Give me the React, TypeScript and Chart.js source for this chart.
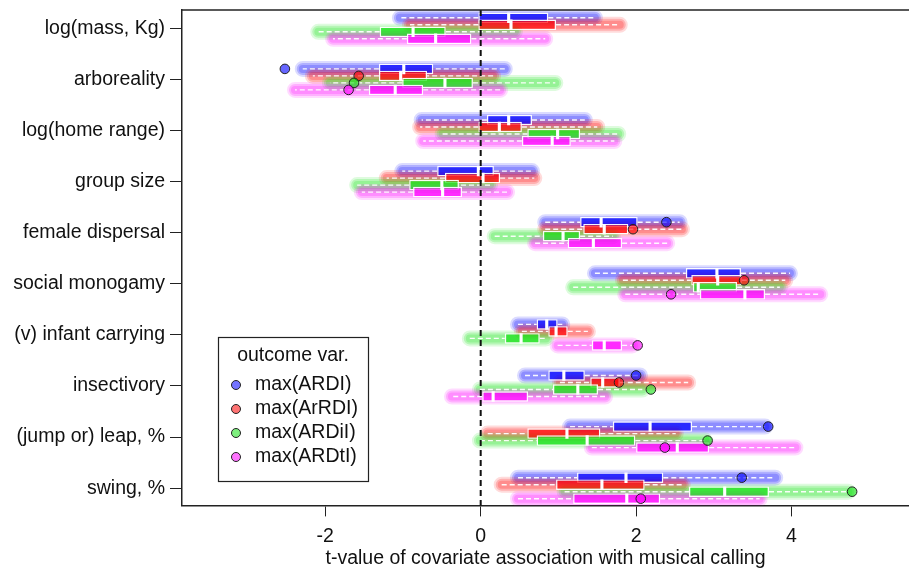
import React, { useEffect, useRef } from 'react';
import { Chart, registerables } from 'chart.js';

Chart.register(...registerables);

const FONT = '"Liberation Sans", Arial, Helvetica, sans-serif';
const FONT_SIZE = 19.5;

const CATEGORIES = [
  'log(mass, Kg)',
  'arboreality',
  'log(home range)',
  'group size',
  'female dispersal',
  'social monogamy',
  '(v) infant carrying',
  'insectivory',
  '(jump or) leap, %',
  'swing, %',
];
const SERIES = ['max(ARDI)', 'max(ArRDI)', 'max(ARDiI)', 'max(ARDtI)'];
const LEGEND_TITLE = 'outcome var.';
const X_TITLE = 't-value of covariate association with musical calling';
const X_TICKS = [-2, 0, 2, 4];
const COLORS = ['0,0,255', '255,0,0', '20,225,20', '255,0,255'];

// blue: max(ARDI)
const BLUE_LO = [-1.04, -2.29, -0.76, -1.01, 0.83, 1.47, 0.48, 0.57, 1.15, 0.48];
const BLUE_Q1 = [-0.03, -1.31, 0.08, -0.56, 1.28, 2.64, 0.72, 0.87, 1.7, 1.24];
const BLUE_MED = [0.36, -0.99, 0.36, -0.03, 1.55, 3.04, 0.85, 1.07, 2.18, 1.87];
const BLUE_Q3 = [0.87, -0.61, 0.66, 0.17, 2.02, 3.35, 0.99, 1.34, 2.72, 2.35];
const BLUE_HI = [1.47, 0.31, 1.34, 0.66, 2.56, 3.98, 1.05, 2.05, 3.66, 3.79];
const BLUE_OBS = [null, -2.52, null, null, 2.39, null, null, 2.0, 3.7, 3.36];

// red: max(ArRDI)
const RED_LO = [-0.91, -2.16, -0.78, -1.21, 0.83, 1.83, 0.53, 1.02, 0.09, 0.27];
const RED_Q1 = [-0.03, -1.31, -0.03, -0.46, 1.32, 2.71, 0.87, 1.41, 0.6, 0.97];
const RED_MED = [0.39, -1.03, 0.24, 0.03, 1.59, 3.05, 0.97, 1.57, 1.11, 1.56];
const RED_Q3 = [0.97, -0.69, 0.53, 0.25, 1.9, 3.36, 1.12, 1.79, 1.54, 2.11];
const RED_HI = [1.79, 0.16, 1.5, 0.69, 2.59, 3.92, 1.38, 2.67, 2.51, 2.6];
const RED_OBS = [null, -1.57, null, null, 1.96, 3.39, null, 1.78, null, null];

// green: max(ARDiI)
const GREEN_LO = [-2.09, -1.94, -0.49, -1.59, 0.18, 1.19, -0.14, -0.01, -0.01, 1.08];
const GREEN_Q1 = [-1.3, -1.01, 0.6, -0.92, 0.8, 2.73, 0.31, 0.93, 0.72, 2.68];
const GREEN_MED = [-0.87, -0.46, 0.99, -0.5, 1.06, 2.8, 0.52, 1.25, 1.37, 3.14];
const GREEN_Q3 = [-0.45, -0.1, 1.28, -0.28, 1.28, 3.3, 0.76, 1.51, 1.99, 3.71];
const GREEN_HI = [0.44, 0.96, 1.77, 0.12, 1.7, 3.85, 0.84, 2.08, 2.89, 4.73];
const GREEN_OBS = [null, -1.63, null, null, null, null, null, 2.19, 2.92, 4.78];

// magenta: max(ARDtI)
const MAG_LO = [-1.9, -2.39, -0.74, -1.53, 0.7, 1.86, 0.99, -0.37, 1.43, 0.48];
const MAG_Q1 = [-0.95, -1.44, 0.53, -0.87, 1.12, 2.82, 1.43, 0.02, 2.0, 1.19];
const MAG_MED = [-0.58, -1.1, 0.92, -0.49, 1.45, 3.4, 1.59, 0.16, 2.53, 1.88];
const MAG_Q3 = [-0.12, -0.74, 1.16, -0.24, 1.82, 3.66, 1.82, 0.61, 2.94, 2.31];
const MAG_HI = [0.83, 0.25, 1.72, 0.34, 2.4, 4.37, 1.95, 1.6, 4.05, 3.59];
const MAG_OBS = [null, -1.7, null, null, null, 2.45, 2.02, null, 2.37, 2.06];

const SERIES_DATA = [
  { lo: BLUE_LO, q1: BLUE_Q1, med: BLUE_MED, q3: BLUE_Q3, hi: BLUE_HI, obs: BLUE_OBS },
  { lo: RED_LO, q1: RED_Q1, med: RED_MED, q3: RED_Q3, hi: RED_HI, obs: RED_OBS },
  { lo: GREEN_LO, q1: GREEN_Q1, med: GREEN_MED, q3: GREEN_Q3, hi: GREEN_HI, obs: GREEN_OBS },
  { lo: MAG_LO, q1: MAG_Q1, med: MAG_MED, q3: MAG_Q3, hi: MAG_HI, obs: MAG_OBS },
];

const CAT_PCT = 0.548;
const BOX_PCT = 1.5;
const MED_HALF = 0.02;
const rowY = (i: number, k: number) => i + 1 + ((k - 1.5) * CAT_PCT) / 4;

function buildDatasets() {
  const ds: any[] = [];
  const drawOrder = [3, 2, 1, 0];
  // placeholders fix stack slot order (blue on top of each row)
  SERIES_DATA.forEach((_, k) => ds.push({ type: 'bar', data: [], stack: 's' + k, categoryPercentage: CAT_PCT }));

  drawOrder.forEach((k) => {
    const s = SERIES_DATA[k];
    const pts: any[] = [];
    s.obs.forEach((v, i) => {
      if (v !== null) pts.push({ x: v, y: rowY(i, k) });
    });
    ds.push({
      type: 'scatter',
      data: pts,
      pointRadius: 4.8,
      pointBorderWidth: 1,
      pointBorderColor: '#222',
      pointBackgroundColor: `rgba(${COLORS[k]},0.6)`,
    });
  });

  const barBase = (k: number) => ({
    type: 'bar',
    stack: 's' + k,
    categoryPercentage: CAT_PCT,
    grouped: true,
  });

  drawOrder.forEach((k) => {
    const s = SERIES_DATA[k];
    ds.push({
      ...barBase(k),
      barPercentage: BOX_PCT,
      data: s.med.map((m, i) => ({ y: i + 1, x: [m - MED_HALF, m + MED_HALF] })),
      backgroundColor: '#ffffff',
      borderWidth: 0,
      inflateAmount: 0,
    });
  });

  drawOrder.forEach((k) => {
    const s = SERIES_DATA[k];
    ds.push({
      ...barBase(k),
      barPercentage: BOX_PCT,
      data: s.q1.map((q, i) => ({ y: i + 1, x: [q, s.q3[i]] })),
      backgroundColor: `rgba(${COLORS[k]},0.7)`,
      borderColor: 'rgba(255,255,255,0.95)',
      borderWidth: 1.4,
      borderSkipped: false,
      inflateAmount: 0,
    });
  });

  drawOrder.forEach((k) => {
    const s = SERIES_DATA[k];
    ds.push({
      ...barBase(k),
      whisker: true,
      barPercentage: 0.2,
      data: s.lo.map((v, i) => ({ y: i + 1, x: [v, s.q1[i]] })),
      backgroundColor: 'rgba(0,0,0,0)',
      borderWidth: 0,
    });
    ds.push({
      ...barBase(k),
      whisker: true,
      barPercentage: 0.2,
      data: s.q3.map((v, i) => ({ y: i + 1, x: [v, s.hi[i]] })),
      backgroundColor: 'rgba(0,0,0,0)',
      borderWidth: 0,
    });
  });

  const cloudLine = (k: number, width: number, alpha: number) => {
    const s = SERIES_DATA[k];
    const data: any[] = [];
    s.lo.forEach((v, i) => {
      data.push({ x: v, y: rowY(i, k) });
      data.push({ x: s.hi[i], y: rowY(i, k) });
      data.push({ x: null, y: null });
    });
    return {
      type: 'line',
      data,
      borderColor: `rgba(${COLORS[k]},${alpha})`,
      borderWidth: width,
      borderCapStyle: 'round',
      pointRadius: 0,
      spanGaps: false,
      tension: 0,
      fill: false,
    };
  };

  drawOrder.forEach((k) => {
    ds.push(cloudLine(k, 8, 0.2));
    ds.push(cloudLine(k, 12, 0.2));
    ds.push(cloudLine(k, 16, 0.14));
  });
  return ds;
}

const whiskerPlugin = {
  id: 'whiskers',
  afterDatasetDraw(chart: any, args: any) {
    const d = chart.data.datasets[args.index];
    if (!d || !d.whisker) return;
    const { ctx, chartArea: a } = chart;
    ctx.save();
    ctx.beginPath();
    ctx.rect(a.left, a.top, a.right - a.left, a.bottom - a.top);
    ctx.clip();
    ctx.strokeStyle = 'rgba(255,255,255,0.95)';
    ctx.lineWidth = 1.4;
    ctx.setLineDash([5, 3]);
    args.meta.data.forEach((el: any) => {
      ctx.beginPath();
      ctx.moveTo(el.base, el.y);
      ctx.lineTo(el.x, el.y);
      ctx.stroke();
    });
    ctx.restore();
  },
};

const framePlugin = {
  id: 'frame',
  afterDatasetsDraw(chart: any) {
    const { ctx, chartArea: a, scales } = chart;
    const x0 = scales.x.getPixelForValue(0);
    ctx.save();
    ctx.strokeStyle = '#111';
    ctx.lineWidth = 2;
    ctx.setLineDash([6, 4]);
    ctx.beginPath();
    ctx.moveTo(x0, a.top);
    ctx.lineTo(x0, a.bottom);
    ctx.stroke();
    ctx.setLineDash([]);
    ctx.lineWidth = 1.5;
    ctx.strokeStyle = '#222';
    ctx.beginPath();
    ctx.moveTo(a.left, a.top);
    ctx.lineTo(a.right, a.top);
    ctx.stroke();
    ctx.restore();
  },
};

const legendPlugin = {
  id: 'rLegend',
  afterDraw(chart: any) {
    const { ctx, chartArea: a } = chart;
    const x0 = a.left + 36;
    const y0 = a.top + 327;
    const w = 150;
    const h = 144;
    ctx.save();
    ctx.fillStyle = '#fff';
    ctx.fillRect(x0, y0, w, h);
    ctx.strokeStyle = '#222';
    ctx.lineWidth = 1.2;
    ctx.strokeRect(x0 + 0.5, y0 + 0.5, w, h);
    ctx.font = `${FONT_SIZE}px ${FONT}`;
    ctx.fillStyle = '#111';
    ctx.textAlign = 'center';
    ctx.textBaseline = 'middle';
    ctx.fillText(LEGEND_TITLE, x0 + w / 2, y0 + 19);
    ctx.textAlign = 'left';
    SERIES.forEach((name, k) => {
      const yy = y0 + 48 + 24 * k;
      ctx.beginPath();
      ctx.arc(x0 + 18, yy, 4.5, 0, Math.PI * 2);
      ctx.fillStyle = `rgba(${COLORS[k]},0.55)`;
      ctx.fill();
      ctx.strokeStyle = '#222';
      ctx.lineWidth = 1;
      ctx.stroke();
      ctx.fillStyle = '#111';
      ctx.fillText(name, x0 + 37, yy);
    });
    ctx.restore();
  },
};

export default function App() {
  const ref = useRef<HTMLCanvasElement>(null);
  useEffect(() => {
    document.body.style.margin = '0';
    const chart = new Chart(ref.current as HTMLCanvasElement, {
      type: 'bar',
      data: { datasets: buildDatasets() } as any,
      options: {
        indexAxis: 'y',
        animation: false,
        responsive: true,
        maintainAspectRatio: false,
        events: [],
        layout: { autoPadding: false, padding: { top: 10, right: 0, left: 0, bottom: 0 } },
        plugins: { legend: { display: false }, tooltip: { enabled: false } },
        scales: {
          x: {
            type: 'linear',
            min: -3.844,
            max: 5.512,
            stacked: false,
            afterBuildTicks: (s: any) => {
              s.ticks = X_TICKS.map((v) => ({ value: v }));
            },
            afterFit: (s: any) => {
              s.height = 64.6;
              s.paddingLeft = 0;
              s.paddingRight = 0;
            },
            grid: { drawOnChartArea: false, drawTicks: true, tickLength: 11, color: '#222', tickWidth: 1 },
            border: { display: true, color: '#222', width: 1.5 },
            ticks: { color: '#111', font: { family: FONT, size: FONT_SIZE }, padding: 9, maxRotation: 0 },
            title: {
              display: true,
              text: X_TITLE,
              color: '#111',
              font: { family: FONT, size: FONT_SIZE },
              padding: { top: 0, bottom: 0 },
            },
          },
          y: {
            type: 'linear',
            reverse: true,
            min: 0.642,
            max: 10.337,
            offset: false,
            stacked: true,
            afterBuildTicks: (s: any) => {
              s.ticks = CATEGORIES.map((_, i) => ({ value: i + 1 }));
            },
            afterFit: (s: any) => {
              s.width = 182;
              s.paddingTop = 0;
              s.paddingBottom = 0;
            },
            grid: { offset: false, drawOnChartArea: false, drawTicks: true, tickLength: 12, color: '#222', tickWidth: 1 },
            border: { display: true, color: '#222', width: 1.5 },
            ticks: {
              color: '#111',
              font: { family: FONT, size: FONT_SIZE },
              padding: 5,
              callback: (v: any) => CATEGORIES[Math.round(Number(v)) - 1],
            },
          },
        },
      } as any,
      plugins: [whiskerPlugin, framePlugin, legendPlugin],
    });
    return () => chart.destroy();
  }, []);
  return (
    <div style={{ width: 909, height: 570, position: 'relative' }}>
      <canvas ref={ref} />
    </div>
  );
}
